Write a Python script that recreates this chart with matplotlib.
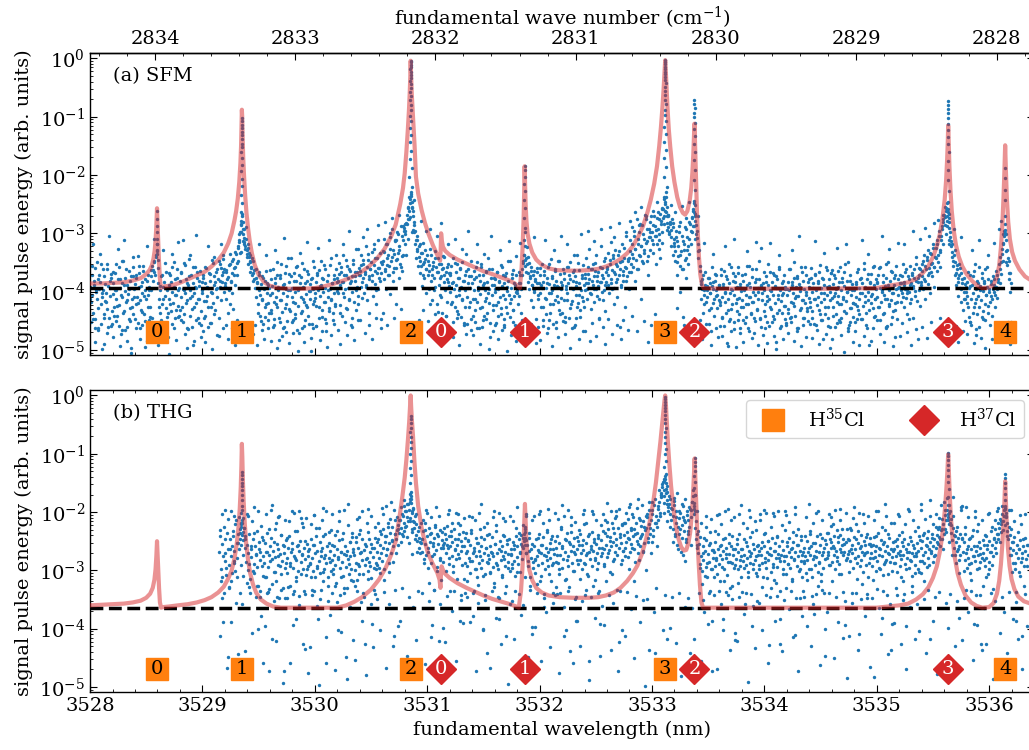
import numpy as np
import matplotlib
matplotlib.use('Agg')
import matplotlib.pyplot as plt
from matplotlib.lines import Line2D
from matplotlib.ticker import MultipleLocator, FixedLocator

# signal values are stored in centi-decades: signal = 10**(-v/100)

# ---- (a) SFM ------------------------------------------------------------
sfm_scan = (3528.0, 3536.2)   # every row below = 0.2 nm of the scan
sfm_core = [
    392, 418, 371, 405, 436, 388, 359, 447, 401, 412, 378, 466, 395, 383, 421, 352, 409, 398, 489, 374, 416, 403, 362, 429, 391, 446, 381, 407, 369, 455,
    404, 386, 427, 368, 412, 397, 441, 379, 358, 423, 394, 472, 385, 410, 347, 433, 399, 376, 418, 461, 389, 404, 365, 428, 382, 497, 413, 373, 438, 396,
    387, 421, 376, 409, 453, 392, 368, 415, 431, 384, 402, 356, 439, 397, 378, 413, 485, 371, 406, 392, 427, 363, 398, 445, 381, 367, 349, 372, 341, 318,
    336, 385, 412, 398, 437, 374, 421, 392, 459, 383, 407, 366, 428, 395, 478, 388, 412, 371, 433, 401, 357, 419, 392, 446, 378, 405, 362, 424, 397, 441,
    382, 409, 367, 426, 395, 351, 438, 402, 379, 415, 463, 389, 344, 411, 397, 372, 429, 386, 491, 403, 358, 420, 394, 376, 445, 391, 412, 365, 433, 384,
    398, 372, 416, 385, 441, 359, 407, 393, 427, 368, 382, 454, 401, 346, 419, 388, 374, 432, 396, 361, 410, 379, 476, 392, 352, 415, 383, 367, 338, 401,
    391, 366, 412, 378, 436, 395, 354, 421, 383, 402, 347, 429, 372, 389, 358, 336, 371, 322, 348, 315, 334, 298, 286, 267, 301, 318, 292, 327, 309, 341,
    328, 352, 341, 366, 337, 359, 372, 348, 381, 363, 394, 376, 409, 385, 422, 367, 398, 441, 387, 412, 373, 456, 395, 382, 427, 364, 403, 419, 388, 437,
    405, 379, 432, 391, 362, 418, 447, 386, 409, 371, 426, 398, 483, 377, 414, 352, 435, 402, 389, 461, 368, 421, 395, 408, 343, 384, 429, 397, 374, 452,
    393, 417, 368, 401, 439, 382, 356, 424, 398, 471, 386, 409, 375, 433, 392, 417, 361, 448, 404, 381, 426, 369, 399, 413, 387, 502, 376, 421, 395, 358,
    411, 384, 425, 372, 398, 446, 363, 407, 389, 432, 376, 401, 354, 418, 393, 467, 381, 409, 371, 428, 396, 343, 415, 386, 437, 402, 378, 421, 362, 399,
    376, 402, 351, 423, 389, 367, 441, 384, 338, 409, 395, 372, 428, 356, 393, 414, 362, 385, 457, 373, 401, 346, 418, 381, 366, 432, 392, 327, 408, 371,
    364, 392, 338, 411, 377, 353, 402, 369, 321, 388, 415, 346, 379, 436, 361, 394, 332, 372, 408, 355, 387, 343, 421, 368, 312, 396, 359, 381, 447, 349,
    352, 331, 378, 309, 364, 395, 342, 318, 371, 356, 404, 327, 348, 293, 366, 382, 336, 312, 359, 421, 344, 301, 376, 328, 352, 287, 339, 364, 311, 296,
    318, 296, 337, 284, 309, 275, 262, 248, 236, 229, 254, 271, 298, 286, 319, 342, 305, 331, 356, 322, 347, 368, 333, 391, 352, 317, 376, 344, 402, 361,
    338, 372, 355, 396, 327, 381, 362, 414, 349, 376, 331, 392, 358, 421, 367, 343, 388, 405, 352, 373, 436, 359, 384, 341, 398, 366, 417, 378, 353, 391,
    372, 401, 356, 418, 384, 343, 395, 427, 366, 389, 352, 438, 377, 406, 361, 392, 415, 349, 382, 453, 371, 398, 336, 409, 385, 362, 426, 393, 374, 447,
    386, 412, 364, 398, 431, 375, 349, 417, 392, 463, 381, 404, 357, 426, 389, 372, 441, 398, 365, 411, 384, 343, 419, 395, 478, 377, 406, 361, 432, 388,
    401, 378, 423, 366, 395, 442, 383, 409, 354, 428, 391, 372, 457, 386, 412, 368, 399, 436, 381, 405, 347, 419, 394, 376, 431, 363, 408, 389, 484, 372,
    397, 421, 366, 408, 385, 437, 372, 394, 351, 338, 322, 345, 367, 352, 384, 341, 396, 373, 415, 358, 389, 426, 364, 401, 378, 447, 386, 359, 412, 394,
    371, 403, 389, 352, 426, 384, 365, 411, 393, 439, 376, 358, 402, 387, 421, 344, 398, 373, 456, 389, 362, 414, 381, 407, 348, 392, 432, 369, 395, 411,
    388, 362, 414, 379, 443, 396, 357, 402, 385, 371, 428, 349, 393, 416, 367, 382, 461, 374, 405, 391, 338, 419, 386, 363, 432, 398, 377, 409, 354, 426,
    376, 398, 343, 412, 369, 385, 327, 403, 361, 429, 382, 352, 396, 418, 365, 338, 407, 374, 391, 446, 358, 383, 321, 401, 372, 414, 347, 389, 433, 366,
    361, 389, 334, 402, 352, 378, 315, 396, 343, 421, 367, 328, 384, 356, 409, 337, 372, 461, 349, 392, 318, 365, 381, 343, 427, 359, 305, 374, 348, 396,
    342, 311, 367, 289, 336, 358, 304, 381, 327, 346, 275, 318, 362, 297, 339, 412, 321, 285, 351, 309, 334, 268, 316, 347, 293, 372, 306, 329, 281, 458,
    312, 286, 334, 271, 305, 352, 294, 318, 263, 327, 301, 342, 279, 316, 297, 258, 284, 246, 262, 238, 271, 289, 268, 302, 281, 321, 294, 276, 338, 309,
    322, 348, 296, 371, 314, 339, 287, 356, 401, 331, 305, 362, 443, 318, 346, 292, 377, 328, 352, 309, 336, 284, 319, 297, 272, 288, 263, 251, 279, 302,
    296, 318, 342, 329, 364, 387, 412, 379, 436, 398, 421, 367, 455, 391, 409, 376, 432, 402, 385, 468, 357, 419, 396, 441, 381, 407, 372, 428, 394, 415,
    388, 423, 371, 409, 446, 392, 365, 418, 401, 437, 379, 412, 494, 386, 403, 358, 429, 397, 381, 452, 406, 374, 419, 392, 433, 368, 411, 387, 462, 399,
    414, 381, 426, 397, 369, 443, 405, 388, 421, 356, 409, 392, 438, 375, 417, 400, 471, 383, 406, 362, 429, 394, 412, 378, 447, 391, 325, 402, 386, 434,
    397, 421, 374, 408, 452, 389, 413, 367, 426, 399, 384, 441, 406, 372, 419, 393, 487, 378, 405, 431, 362, 398, 416, 385, 437, 403, 371, 424, 392, 458,
    406, 383, 429, 397, 361, 418, 444, 389, 402, 376, 425, 411, 392, 467, 374, 408, 387, 432, 399, 358, 415, 381, 446, 396, 419, 372, 405, 428, 384, 411,
    392, 418, 377, 434, 401, 386, 455, 369, 412, 397, 423, 381, 409, 366, 438, 394, 402, 376, 481, 413, 389, 427, 358, 405, 392, 446, 378, 415, 401, 368,
    411, 387, 426, 372, 403, 439, 395, 418, 364, 407, 383, 452, 398, 421, 376, 409, 391, 434, 353, 416, 400, 382, 463, 395, 371, 428, 405, 387, 419, 443,
    398, 421, 383, 409, 367, 432, 394, 413, 378, 447, 402, 386, 425, 361, 408, 392, 436, 379, 415, 401, 492, 384, 419, 370, 404, 428, 389, 356, 412, 396,
    385, 409, 372, 426, 394, 358, 417, 401, 438, 383, 406, 391, 463, 377, 412, 349, 424, 398, 381, 415, 366, 402, 433, 388, 371, 419, 396, 447, 378, 405,
    392, 371, 418, 385, 403, 352, 427, 389, 366, 411, 397, 438, 374, 401, 356, 419, 386, 372, 445, 393, 362, 408, 381, 341, 416, 377, 398, 359, 424, 383,
    374, 352, 396, 338, 381, 412, 361, 345, 387, 329, 368, 403, 352, 336, 374, 318, 357, 392, 341, 325, 364, 311, 349, 296, 332, 358, 304, 287, 319, 276,
    268, 285, 301, 262, 279, 258, 291, 274, 306, 322, 341, 318, 356, 337, 372, 349, 388, 361, 407, 376, 352, 394, 418, 368, 385, 432, 401, 377, 413, 392,
    407, 383, 426, 394, 452, 371, 412, 388, 436, 402, 365, 419, 396, 474, 381, 408, 357, 427, 391, 414, 376, 443, 399, 385, 421, 362, 405, 392, 437, 379,
    396, 418, 381, 407, 442, 373, 401, 389, 426, 364, 411, 395, 378, 352, 386, 341, 369, 327, 348, 316, 296, 284, 302, 331, 355, 343, 379, 368, 401, 452,
]
sfm_core2 = [
    412, 356, 447, 381, 463, 398, 349, 428, 371, 455, 403, 362, 439, 387, 418, 352, 461, 394, 376, 433,
    367, 441, 398, 353, 424, 459, 379, 406, 348, 437, 389, 465, 362, 415, 396, 451, 374, 427, 358, 409,
    447, 372, 419, 356, 463, 391, 435, 364, 408, 451, 382, 426, 398, 443, 374, 356, 363, 347, 338, 329,
    359, 426, 391, 448, 372, 413, 351, 462, 397, 437, 368, 421, 384, 456, 349, 405, 431, 377, 444, 393,
    431, 368, 452, 397, 354, 419, 386, 464, 373, 441, 408, 357, 427, 392, 449, 366, 413, 381, 458, 402,
    377, 445, 358, 416, 392, 461, 369, 427, 403, 351, 438, 384, 366, 393, 348, 382, 359, 371, 344, 362,
    386, 363, 375, 397, 352, 381, 368, 344, 359, 332, 351, 326, 312, 297, 284, 271, 293, 308, 322, 336,
    318, 334, 349, 357, 343, 368, 379, 361, 384, 436, 372, 405, 451, 414, 377, 443, 421, 386, 462, 393,
    363, 437, 402, 458, 376, 421, 349, 392, 445, 371, 414, 463, 387, 428, 356, 451, 398, 369, 433, 409,
    448, 381, 419, 357, 466, 396, 372, 437, 351, 412, 459, 385, 423, 364, 441, 399, 378, 455, 347, 416,
    402, 459, 368, 426, 391, 347, 443, 379, 418, 362, 454, 397, 433, 355, 412, 386, 448, 371, 424, 383,
    382, 369, 437, 358, 384, 403, 371, 346, 429, 376, 412, 364, 381, 445, 352, 374, 398, 367, 421, 359,
    371, 355, 384, 346, 367, 392, 358, 336, 374, 362, 349, 381, 327, 365, 398, 343, 359, 376, 334, 368,
    348, 332, 361, 319, 354, 337, 372, 306, 341, 328, 359, 314, 346, 297, 333, 322, 357, 305, 338, 291,
    302, 283, 269, 254, 241, 233, 247, 262, 281, 296, 312, 327, 341, 318, 356, 334, 371, 349, 328, 362,
    348, 364, 422, 337, 371, 356, 398, 343, 367, 435, 352, 376, 409, 361, 339, 372, 441, 357, 383, 368,
    368, 421, 386, 452, 351, 407, 434, 376, 398, 359, 443, 412, 381, 427, 364, 456, 393, 374, 418, 347,
    441, 379, 413, 358, 462, 397, 371, 428, 352, 449, 386, 416, 367, 437, 403, 361, 454, 389, 423, 376,
    395, 453, 366, 418, 381, 439, 357, 406, 461, 374, 427, 392, 348, 444, 412, 369, 431, 386, 458, 401,
    403, 385, 372, 396, 361, 348, 337, 356, 342, 368, 351, 377, 364, 389, 372, 398, 381, 367, 405, 386,
    359, 427, 394, 448, 371, 412, 386, 463, 352, 436, 403, 377, 421, 365, 452, 391, 418, 347, 439, 383,
    437, 368, 452, 391, 414, 357, 446, 379, 421, 396, 363, 458, 384, 427, 351, 405, 443, 372, 416, 389,
    369, 386, 395, 357, 378, 404, 362, 389, 373, 351, 396, 381, 367, 412, 384, 359, 376, 398, 343, 383,
    357, 372, 346, 385, 363, 338, 394, 369, 352, 378, 331, 361, 389, 347, 372, 326, 358, 381, 344, 366,
    331, 352, 318, 343, 296, 327, 361, 309, 338, 284, 322, 347, 301, 329, 276, 314, 339, 292, 306, 271,
    298, 319, 287, 305, 274, 293, 311, 266, 284, 257, 271, 249, 263, 282, 271, 298, 284, 306, 289, 317,
    331, 306, 349, 322, 297, 338, 361, 314, 329, 289, 343, 306, 322, 281, 296, 274, 261, 248, 267, 286,
    308, 331, 356, 382, 395, 371, 406, 389, 417, 398, 376, 403, 428, 391, 384, 412, 369, 397, 405, 388,
    418, 361, 443, 387, 459, 402, 374, 431, 353, 447, 396, 421, 368, 464, 383, 412, 357, 438, 392, 426,
    372, 448, 396, 421, 356, 463, 385, 409, 437, 362, 418, 451, 379, 432, 401, 348, 445, 389, 414, 367,
    441, 383, 416, 352, 459, 397, 429, 368, 447, 391, 374, 436, 412, 358, 463, 405, 381, 424, 396, 453,
    396, 437, 361, 452, 384, 419, 349, 441, 407, 376, 463, 392, 428, 367, 414, 446, 358, 401, 433, 379,
    427, 359, 446, 393, 412, 371, 458, 386, 431, 354, 417, 449, 378, 402, 439, 363, 426, 391, 461, 368,
    363, 441, 407, 376, 453, 392, 421, 358, 446, 384, 413, 367, 436, 401, 349, 458, 382, 428, 397, 419,
    452, 387, 424, 361, 439, 403, 376, 447, 351, 418, 394, 462, 369, 431, 386, 408, 357, 443, 412, 378,
    384, 426, 359, 448, 397, 371, 436, 413, 352, 459, 388, 421, 364, 443, 402, 377, 431, 356, 417, 394,
    386, 398, 373, 409, 384, 395, 361, 402, 378, 389, 412, 368, 391, 376, 399, 353, 384, 371, 362, 388,
    365, 348, 379, 356, 341, 372, 359, 334, 367, 351, 326, 358, 343, 319, 337, 304, 329, 312, 293, 281,
    272, 256, 248, 263, 281, 297, 314, 332, 347, 329, 368, 354, 383, 371, 359, 396, 378, 412, 387, 401,
    419, 366, 443, 391, 458, 374, 427, 352, 412, 439, 386, 461, 397, 368, 433, 381, 449, 405, 357, 424,
    401, 387, 413, 395, 378, 406, 392, 371, 384, 362, 349, 336, 318, 305, 294, 312, 329, 347, 368, 386,
]
sfm_outer = [   # sparse samples far from the noise floor
    452, 318, 487, 463, 336, 498, 446, 471, 305, 459,
    478, 451, 327, 493, 466, 312, 484, 447, 505, 341,
    463, 339, 482, 457, 495, 321, 448, 473, 309, 468,
    491, 458, 329, 476, 444, 507, 336, 462, 483, 315,
    449, 312, 472, 496, 338, 461, 485, 303, 454, 477,
    468, 487, 322, 453, 499, 341, 475, 446, 318, 462,
    457, 481, 335, 463, 492, 448, 302, 278, 315, 289,
    326, 347, 473, 458, 492, 318, 466, 481, 337, 449,
    484, 461, 329, 497, 452, 476, 308, 469, 488, 343,
    471, 446, 502, 334, 463, 487, 315, 455, 479, 462,
    459, 326, 483, 468, 447, 495, 312, 474, 456, 338,
    466, 489, 318, 452, 475, 296, 461, 483, 327, 448,
    448, 307, 471, 293, 458, 482, 319, 446, 286, 463,
    437, 281, 458, 299, 273, 446, 312, 268, 429, 287,
    284, 257, 272, 298, 243, 311, 448, 279, 432, 296,
    451, 293, 467, 438, 305, 479, 282, 456, 442, 318,
    462, 478, 309, 445, 491, 327, 457, 473, 296, 466,
    474, 452, 318, 489, 461, 336, 447, 498, 305, 468,
    458, 481, 329, 466, 447, 502, 313, 475, 452, 339,
    467, 316, 449, 298, 323, 476, 455, 307, 488, 461,
    483, 459, 312, 471, 448, 494, 329, 462, 477, 305,
    451, 472, 318, 496, 463, 337, 445, 482, 301, 468,
    468, 296, 485, 453, 314, 476, 447, 292, 461, 489,
    447, 289, 472, 306, 458, 283, 481, 449, 298, 466,
    279, 442, 263, 468, 286, 255, 451, 271, 487, 298,
    262, 438, 247, 276, 259, 241, 229, 268, 252, 283,
    264, 428, 281, 253, 457, 273, 246, 462, 258, 271,
    271, 448, 482, 317, 469, 455, 491, 336, 463, 477,
    459, 476, 322, 488, 451, 467, 309, 495, 448, 471,
    486, 453, 331, 467, 479, 446, 315, 492, 461, 474,
    463, 488, 317, 452, 476, 498, 338, 459, 481, 447,
    471, 446, 329, 484, 462, 305, 493, 457, 478, 451,
    455, 479, 314, 466, 490, 448, 333, 472, 459, 497,
    482, 461, 326, 449, 475, 503, 319, 468, 452, 487,
    468, 447, 491, 311, 476, 458, 335, 484, 463, 442,
    449, 472, 304, 486, 461, 327, 455, 493, 478, 316,
    476, 453, 318, 469, 447, 492, 296, 464, 481, 309,
    461, 291, 479, 304, 452, 283, 468, 277, 446, 269,
    254, 271, 318, 472, 293, 459, 486, 307, 467, 451,
    473, 452, 329, 488, 464, 312, 479, 447, 496, 338,
    458, 481, 316, 467, 293, 278, 301, 476, 452, 489,
]
sfm_peak_pts = [
    (3528.594, 262), (3528.596, 275), (3528.597, 288), (3528.595, 297), (3528.598, 309), (3528.600, 318), (3528.592, 331), (3528.602, 345),
    (3529.349, 103), (3529.351, 108), (3529.350, 114), (3529.352, 119), (3529.348, 126), (3529.350, 131), (3529.353, 138), (3529.349, 146),
    (3529.351, 152), (3529.347, 161), (3529.352, 170), (3529.354, 182), (3529.346, 193), (3529.350, 206), (3529.355, 219), (3529.345, 234),
    (3529.356, 248), (3529.344, 263), (3529.357, 281), (3529.342, 297), (3529.358, 314), (3529.340, 332),
    (3530.853, 4), (3530.852, 7), (3530.854, 11), (3530.853, 15), (3530.851, 19), (3530.855, 24), (3530.852, 28), (3530.854, 33),
    (3530.850, 38), (3530.856, 44), (3530.853, 50), (3530.851, 57), (3530.855, 64), (3530.849, 72), (3530.857, 80), (3530.852, 89),
    (3530.848, 98), (3530.858, 108), (3530.846, 119), (3530.856, 131), (3530.845, 144), (3530.860, 158), (3530.843, 172), (3530.862, 188),
    (3530.841, 204), (3530.865, 221), (3530.838, 238), (3530.868, 256), (3530.835, 275), (3530.871, 295),
    (3531.867, 184), (3531.866, 192), (3531.868, 203), (3531.865, 215), (3531.869, 228), (3531.864, 242), (3531.870, 257), (3531.863, 274),
    (3531.872, 291), (3531.861, 312),
    (3533.118, 3), (3533.117, 6), (3533.119, 10), (3533.118, 14), (3533.116, 18), (3533.120, 23), (3533.117, 27), (3533.119, 32),
    (3533.115, 37), (3533.121, 43), (3533.118, 49), (3533.116, 56), (3533.120, 63), (3533.114, 71), (3533.122, 79), (3533.117, 88),
    (3533.113, 97), (3533.123, 107), (3533.111, 118), (3533.121, 130), (3533.110, 143), (3533.125, 157), (3533.108, 171), (3533.127, 187),
    (3533.106, 203), (3533.130, 220), (3533.103, 237), (3533.133, 255), (3533.100, 274), (3533.136, 294),
    (3533.378, 72), (3533.377, 78), (3533.379, 85), (3533.378, 93), (3533.376, 101), (3533.380, 110), (3533.377, 121), (3533.379, 133),
    (3533.375, 146), (3533.381, 160), (3533.376, 175), (3533.380, 191), (3533.374, 208), (3533.382, 226), (3533.373, 245), (3533.384, 266),
    (3533.371, 287), (3533.386, 310),
    (3535.636, 73), (3535.635, 80), (3535.637, 86), (3535.636, 94), (3535.634, 103), (3535.638, 112), (3535.635, 122), (3535.637, 134),
    (3535.633, 147), (3535.639, 161), (3535.634, 176), (3535.638, 192), (3535.632, 209), (3535.640, 227), (3535.631, 246), (3535.642, 267),
    (3535.629, 288), (3535.644, 311),
    (3536.143, 188), (3536.142, 205), (3536.144, 226), (3536.141, 243), (3536.146, 270), (3536.139, 300), (3536.149, 350),
]
sfm_fit = [
    (3528.00, 386), (3528.10, 386), (3528.20, 385), (3528.30, 384), (3528.38, 381), (3528.45, 377), (3528.50, 370),
    (3528.53, 363), (3528.55, 355), (3528.565, 343), (3528.575, 330), (3528.583, 312), (3528.589, 292), (3528.593, 274),
    (3528.596, 257), (3528.599, 272), (3528.603, 296), (3528.608, 322), (3528.614, 350), (3528.621, 376), (3528.630, 394),
    (3528.645, 392), (3528.66, 391), (3528.70, 390), (3528.75, 388), (3528.81, 384), (3528.87, 379), (3528.94, 373),
    (3529.02, 366), (3529.08, 357), (3529.14, 346), (3529.19, 333), (3529.23, 317), (3529.26, 300), (3529.285, 278),
    (3529.30, 262), (3529.315, 240), (3529.328, 212), (3529.338, 180), (3529.344, 150), (3529.348, 118), (3529.351, 88),
    (3529.354, 100), (3529.358, 135), (3529.363, 170), (3529.37, 200), (3529.38, 234), (3529.392, 265), (3529.406, 291),
    (3529.42, 312), (3529.44, 334), (3529.465, 354), (3529.50, 371), (3529.55, 384), (3529.60, 390), (3529.66, 393),
    (3529.75, 395), (3529.90, 395), (3530.00, 394), (3530.08, 391), (3530.16, 387), (3530.24, 382), (3530.32, 376),
    (3530.40, 368), (3530.48, 357), (3530.55, 344), (3530.62, 327), (3530.68, 305), (3530.72, 285), (3530.76, 250),
    (3530.785, 222), (3530.80, 197), (3530.815, 160), (3530.828, 122), (3530.838, 88), (3530.845, 58), (3530.85, 30),
    (3530.853, 4), (3530.857, 30), (3530.863, 62), (3530.874, 100), (3530.888, 150), (3530.90, 203), (3530.92, 232),
    (3530.95, 260), (3530.98, 282), (3531.01, 300), (3531.05, 320), (3531.085, 335), (3531.105, 343), (3531.115, 347),
    (3531.12, 330), (3531.124, 300), (3531.13, 312), (3531.14, 323), (3531.16, 330), (3531.20, 337), (3531.27, 345),
    (3531.35, 352), (3531.43, 359), (3531.50, 365), (3531.58, 370), (3531.65, 375), (3531.72, 380), (3531.78, 386),
    (3531.81, 391), (3531.825, 394), (3531.84, 360), (3531.85, 320), (3531.858, 275), (3531.863, 230), (3531.867, 185),
    (3531.871, 215), (3531.876, 250), (3531.883, 278), (3531.893, 300), (3531.91, 318), (3531.935, 333), (3531.97, 345),
    (3532.02, 354), (3532.08, 360), (3532.15, 363), (3532.25, 364), (3532.35, 364), (3532.44, 363), (3532.52, 361),
    (3532.59, 357), (3532.66, 351), (3532.72, 344), (3532.78, 334), (3532.83, 322), (3532.88, 305), (3532.92, 288),
    (3532.96, 264), (3532.99, 242), (3533.02, 215), (3533.045, 185), (3533.065, 150), (3533.08, 118), (3533.093, 85),
    (3533.103, 55), (3533.111, 28), (3533.118, 3), (3533.124, 25), (3533.131, 55), (3533.14, 90), (3533.15, 122),
    (3533.163, 152), (3533.18, 185), (3533.20, 212), (3533.225, 238), (3533.25, 255), (3533.275, 265), (3533.295, 268),
    (3533.315, 262), (3533.335, 245), (3533.35, 222), (3533.36, 195), (3533.368, 165), (3533.374, 135), (3533.378, 112),
    (3533.382, 135), (3533.387, 170), (3533.393, 215), (3533.40, 260), (3533.408, 300), (3533.418, 340), (3533.43, 370),
    (3533.445, 388), (3533.46, 394), (3533.60, 395), (3534.50, 395), (3535.00, 394), (3535.10, 390), (3535.20, 387),
    (3535.28, 384), (3535.35, 378), (3535.41, 368), (3535.46, 356), (3535.50, 341), (3535.53, 325), (3535.56, 303),
    (3535.585, 275), (3535.605, 242), (3535.618, 208), (3535.627, 172), (3535.633, 140), (3535.636, 115), (3535.64, 140),
    (3535.647, 185), (3535.656, 225), (3535.668, 262), (3535.685, 295), (3535.705, 320), (3535.73, 340), (3535.76, 356),
    (3535.80, 370), (3535.85, 382), (3535.90, 390), (3535.94, 394), (3536.00, 393), (3536.04, 388), (3536.07, 375),
    (3536.09, 355), (3536.105, 325), (3536.118, 285), (3536.128, 240), (3536.136, 195), (3536.143, 149), (3536.15, 195),
    (3536.158, 240), (3536.17, 280), (3536.185, 310), (3536.205, 332), (3536.23, 347), (3536.27, 362), (3536.32, 374),
    (3536.40, 384),
]
sfm_floor = 394

# ---- (b) THG ------------------------------------------------------------
thg_scan = (3529.15, 3536.35)   # every row below = 0.2 nm of the scan
thg_core = [
    268, 241, 297, 312, 255, 389, 226, 284, 271, 308, 236, 263, 449, 291, 247, 276, 318, 258, 232, 287, 266, 301, 214, 253, 279, 238, 264, 229, 246, 221,
    219, 234, 248, 227, 262, 241, 285, 256, 271, 299, 238, 314, 263, 277, 408, 246, 289, 305, 259, 272, 233, 294, 326, 251, 268, 283, 378, 242, 309, 275,
    287, 253, 311, 269, 236, 295, 274, 332, 258, 244, 281, 417, 266, 302, 229, 277, 318, 255, 291, 263, 348, 272, 239, 306, 284, 257, 473, 271, 296, 248,
    279, 304, 262, 241, 288, 327, 269, 253, 394, 296, 275, 232, 311, 283, 258, 301, 267, 344, 249, 286, 273, 219, 297, 262, 435, 281, 308, 254, 276, 292,
    264, 289, 312, 247, 278, 301, 256, 336, 271, 228, 293, 267, 383, 284, 251, 305, 276, 262, 318, 241, 297, 273, 459, 288, 259, 312, 234, 279, 266, 301,
    283, 257, 306, 274, 239, 291, 322, 263, 277, 402, 248, 296, 268, 311, 285, 236, 272, 339, 259, 294, 266, 487, 281, 307, 252, 275, 298, 243, 318, 269,
    274, 299, 251, 287, 316, 262, 238, 293, 271, 355, 282, 247, 306, 265, 291, 426, 258, 279, 301, 234, 286, 269, 313, 254, 392, 277, 296, 261, 244, 288,
    268, 291, 247, 279, 305, 256, 238, 284, 262, 229, 297, 251, 273, 241, 264, 218, 288, 253, 236, 271, 249, 226, 259, 412, 238, 214, 247, 231, 256, 222,
    236, 214, 251, 227, 203, 241, 219, 232, 198, 224, 209, 187, 216, 196, 178, 169, 184, 201, 215, 193, 228, 207, 239, 221, 249, 232, 262, 244, 271, 253,
    247, 268, 232, 281, 255, 219, 273, 241, 296, 262, 228, 251, 287, 236, 394, 259, 272, 244, 226, 265, 301, 238, 254, 421, 279, 231, 262, 248, 286, 257,
    253, 237, 271, 246, 224, 262, 289, 241, 258, 233, 276, 251, 303, 229, 264, 247, 281, 256, 219, 272, 238, 386, 266, 249, 291, 235, 258, 314, 244, 271,
    266, 292, 248, 279, 305, 257, 236, 284, 271, 379, 262, 298, 244, 275, 312, 253, 288, 267, 229, 296, 259, 283, 401, 247, 271, 306, 262, 239, 285, 274,
    281, 258, 303, 269, 242, 294, 276, 321, 255, 287, 233, 271, 297, 264, 384, 249, 282, 308, 258, 275, 241, 293, 268, 412, 254, 286, 272, 247, 301, 263,
    272, 296, 251, 284, 263, 309, 241, 277, 258, 289, 236, 268, 302, 255, 281, 244, 262, 237, 229, 248, 271, 257, 293, 266, 245, 312, 278, 254, 397, 286,
    259, 283, 304, 247, 276, 265, 291, 238, 319, 271, 256, 288, 243, 274, 362, 297, 261, 282, 235, 268, 307, 253, 279, 246, 291, 264, 338, 272, 249, 285,
    262, 241, 287, 253, 306, 274, 229, 296, 258, 281, 412, 247, 269, 314, 236, 275, 293, 251, 438, 266, 222, 287, 259, 301, 244, 272, 387, 263, 283, 249,
    256, 283, 237, 271, 298, 248, 265, 221, 289, 274, 253, 307, 241, 268, 455, 281, 259, 234, 293, 266, 247, 278, 316, 255, 271, 239, 288, 262, 392, 276,
    248, 271, 232, 263, 289, 214, 256, 241, 277, 229, 265, 302, 243, 258, 219, 284, 251, 236, 269, 207, 247, 274, 228, 261, 423, 238, 253, 282, 221, 266,
    239, 262, 218, 251, 234, 277, 212, 246, 268, 227, 254, 203, 241, 263, 229, 285, 218, 249, 236, 271, 211, 244, 258, 224, 237, 266, 216, 253, 231, 207,
    228, 209, 245, 221, 196, 237, 214, 252, 203, 231, 188, 219, 441, 207, 226, 194, 213, 182, 201, 175, 168, 157, 149, 162, 143, 138, 151, 166, 179, 192,
    186, 203, 178, 214, 195, 229, 207, 188, 241, 219, 198, 256, 226, 211, 237, 202, 268, 223, 245, 209, 232, 284, 217, 251, 199, 238, 213, 226, 194, 208,
    196, 183, 172, 189, 204, 228, 246, 262, 238, 271, 255, 289, 243, 276, 301, 259, 283, 372, 267, 294, 248, 311, 272, 257, 286, 234, 298, 265, 386, 279,
    268, 293, 251, 282, 306, 263, 237, 289, 274, 319, 256, 281, 402, 266, 297, 244, 278, 261, 308, 285, 253, 272, 331, 259, 287, 241, 274, 296, 263, 419,
    281, 254, 297, 269, 238, 292, 276, 311, 263, 284, 247, 273, 358, 291, 258, 279, 302, 266, 243, 287, 271, 396, 255, 298, 264, 282, 231, 276, 309, 257,
    266, 291, 203, 274, 252, 287, 311, 259, 278, 236, 296, 268, 249, 283, 428, 261, 302, 274, 245, 289, 266, 317, 253, 279, 241, 295, 272, 258, 384, 284,
    273, 249, 298, 265, 284, 231, 276, 307, 258, 289, 269, 244, 296, 277, 262, 314, 251, 283, 411, 268, 239, 292, 275, 257, 301, 266, 284, 248, 273, 336,
    288, 262, 276, 305, 249, 283, 268, 297, 238, 274, 259, 312, 281, 253, 374, 291, 266, 277, 241, 302, 269, 285, 256, 319, 273, 244, 296, 262, 281, 447,
    254, 279, 236, 268, 291, 247, 262, 224, 285, 259, 273, 241, 298, 266, 231, 277, 252, 289, 263, 239, 306, 257, 274, 246, 268, 393, 283, 251, 229, 272,
    266, 248, 284, 231, 271, 257, 296, 243, 279, 264, 221, 288, 253, 275, 409, 261, 239, 282, 268, 302, 249, 273, 256, 291, 237, 268, 312, 254, 279, 245,
    271, 293, 256, 279, 243, 267, 301, 258, 284, 236, 273, 262, 297, 248, 381, 276, 254, 289, 267, 231, 282, 259, 306, 271, 244, 286, 263, 437, 277, 252,
    264, 287, 249, 276, 302, 258, 271, 239, 293, 266, 281, 252, 318, 274, 247, 289, 263, 396, 278, 255, 296, 268, 242, 284, 271, 309, 257, 276, 233, 291,
    276, 253, 298, 267, 241, 284, 262, 305, 249, 273, 288, 236, 269, 257, 294, 244, 279, 263, 417, 252, 271, 238, 286, 259, 247, 273, 226, 261, 239, 254,
    243, 226, 258, 231, 212, 247, 221, 238, 205, 229, 214, 197, 208, 188, 201, 219, 236, 212, 248, 227, 261, 239, 274, 251, 232, 266, 245, 283, 258, 273,
    197, 189, 244, 268, 252, 283, 237, 271, 296, 258, 279, 246, 305, 263, 288, 241, 276, 392, 259, 284, 267, 232, 298, 273, 251, 286, 262, 427, 279, 248,
    271, 256, 293, 241, 278, 264, 307, 249, 285, 268, 233, 291, 257, 276, 244, 262, 229, 251, 238, 219, 246, 227, 212, 234, 221, 203, 215, 196, 207, 189,
    201, 218, 232, 247, 226, 261, 239, 274, 252, 288, 265, 243, 297, 271, 386, 256, 279, 263, 302, 248, 285, 271, 412, 259, 293, 266, 245, 281, 257, 274,
]
thg_core2 = [
    231, 318, 204, 276, 339, 247, 296, 212, 328, 263, 199, 305, 241, 284, 221, 312, 253, 208, 236, 219,
    196, 211, 228, 247, 322, 206, 289, 338, 259, 215, 301, 236, 274, 327, 199, 263, 345, 224, 292, 248,
    311, 203, 268, 337, 229, 284, 197, 323, 251, 302, 218, 346, 276, 207, 292, 239, 331, 258, 214, 287,
    245, 329, 216, 293, 264, 341, 202, 278, 318, 233, 256, 199, 307, 272, 225, 336, 249, 211, 298, 267,
    288, 221, 334, 257, 205, 312, 241, 296, 227, 349, 266, 214, 303, 279, 238, 198, 326, 253, 285, 231,
    204, 297, 259, 326, 233, 281, 215, 343, 268, 246, 309, 197, 274, 331, 222, 289, 251, 317, 236, 263,
    327, 243, 212, 289, 306, 231, 268, 199, 338, 254, 281, 219, 315, 247, 292, 206, 261, 333, 226, 298,
    252, 218, 296, 233, 271, 204, 317, 241, 189, 263, 226, 302, 212, 248, 286, 197, 237, 271, 208, 229,
    214, 191, 238, 206, 179, 225, 198, 243, 186, 211, 172, 229, 195, 217, 247, 203, 268, 226, 252, 219,
    246, 213, 288, 231, 197, 269, 321, 238, 209, 276, 253, 334, 222, 295, 241, 207, 283, 316, 235, 262,
    228, 301, 257, 204, 278, 336, 241, 219, 293, 265, 201, 314, 246, 279, 223, 342, 258, 211, 287, 236,
    318, 249, 206, 284, 231, 339, 267, 214, 297, 253, 325, 201, 276, 242, 309, 226, 351, 262, 219, 288,
    237, 304, 271, 208, 329, 254, 223, 291, 345, 202, 266, 312, 239, 281, 215, 327, 248, 296, 206, 274,
    289, 216, 257, 335, 228, 302, 247, 271, 239, 258, 222, 249, 311, 203, 284, 236, 327, 264, 213, 296,
    206, 281, 323, 244, 268, 199, 309, 256, 218, 341, 275, 231, 292, 214, 263, 318, 241, 287, 202, 329,
    274, 212, 297, 338, 225, 261, 207, 316, 248, 283, 196, 329, 255, 234, 301, 268, 217, 346, 242, 289,
    231, 315, 256, 203, 288, 342, 219, 271, 309, 237, 264, 198, 326, 251, 282, 213, 297, 244, 335, 223,
    262, 204, 293, 236, 318, 217, 271, 249, 198, 306, 228, 281, 211, 256, 333, 195, 243, 289, 222, 267,
    219, 276, 201, 244, 297, 186, 231, 262, 209, 318, 237, 193, 254, 282, 214, 241, 188, 268, 226, 299,
    204, 252, 183, 228, 271, 196, 241, 177, 218, 259, 189, 163, 207, 171, 152, 184, 143, 168, 156, 198,
    172, 226, 193, 251, 181, 238, 209, 167, 263, 199, 229, 186, 274, 214, 178, 247, 205, 232, 191, 256,
    183, 162, 194, 171, 215, 257, 233, 296, 218, 324, 271, 244, 309, 226, 287, 339, 253, 212, 298, 265,
    311, 232, 278, 205, 336, 259, 221, 294, 247, 318, 199, 272, 343, 238, 286, 214, 327, 263, 208, 291,
    246, 321, 203, 283, 264, 337, 219, 296, 251, 228, 312, 197, 275, 341, 234, 289, 216, 305, 258, 273,
    297, 214, 261, 329, 238, 285, 201, 313, 249, 272, 346, 226, 294, 207, 267, 321, 243, 199, 278, 335,
    223, 306, 276, 198, 331, 252, 289, 217, 264, 319, 235, 281, 204, 347, 256, 229, 298, 241, 312, 268,
    284, 241, 209, 317, 262, 233, 298, 344, 219, 275, 253, 201, 326, 288, 237, 306, 213, 269, 339, 248,
    236, 273, 204, 291, 252, 319, 221, 262, 197, 284, 243, 306, 214, 268, 229, 337, 255, 201, 278, 246,
    302, 227, 264, 338, 211, 279, 246, 315, 233, 201, 292, 258, 324, 219, 271, 243, 347, 206, 287, 254,
    259, 316, 213, 277, 241, 332, 198, 296, 264, 225, 308, 251, 286, 207, 343, 238, 272, 219, 301, 266,
    218, 287, 331, 246, 203, 274, 312, 234, 259, 341, 221, 297, 268, 199, 283, 249, 326, 213, 262, 305,
    271, 226, 303, 248, 197, 284, 239, 318, 212, 259, 233, 291, 206, 267, 244, 221, 276, 203, 252, 229,
    211, 246, 188, 229, 263, 197, 235, 176, 214, 252, 199, 223, 274, 207, 241, 288, 226, 263, 304, 238,
    192, 247, 301, 226, 334, 263, 208, 289, 245, 317, 231, 276, 199, 342, 258, 221, 296, 272, 214, 327,
    283, 239, 311, 256, 204, 297, 268, 226, 332, 247, 214, 271, 199, 238, 252, 216, 189, 231, 206, 194,
    208, 241, 196, 273, 229, 302, 251, 216, 288, 337, 234, 263, 309, 221, 279, 246, 326, 203, 292, 257,
]
thg_outer = [   # sparse samples far from the main band
    412, 348, 196, 467, 331, 389, 207, 356, 443, 338,
    357, 438, 203, 329, 481, 192, 346, 401, 335, 459,
    396, 339, 472, 188, 352, 421, 209, 333, 493, 347,
    347, 458, 198, 336, 384, 359, 211, 427, 341, 476,
    432, 342, 205, 361, 497, 334, 193, 415, 352, 376,
    338, 471, 354, 199, 406, 331, 448, 187, 362, 419,
    453, 336, 208, 387, 346, 479, 195, 358, 431, 340,
    349, 402, 193, 337, 468, 358, 182, 429, 333, 396,
    386, 331, 189, 447, 346, 178, 362, 419, 335, 472,
    339, 461, 201, 352, 414, 333, 191, 482, 357, 398,
    423, 344, 197, 369, 336, 456, 204, 351, 391, 338,
    345, 389, 209, 336, 472, 356, 186, 403, 342, 441,
    467, 335, 199, 381, 348, 427, 211, 339, 494, 358,
    352, 418, 192, 341, 376, 359, 206, 448, 333, 409,
    397, 338, 204, 456, 347, 371, 195, 432, 356, 343,
    341, 476, 188, 362, 403, 335, 209, 459, 349, 387,
    429, 353, 197, 334, 488, 345, 203, 381, 339, 446,
    361, 394, 185, 342, 437, 356, 199, 473, 336, 402,
    413, 337, 192, 366, 451, 344, 178, 389, 351, 498,
    349, 436, 183, 372, 331, 462, 171, 403, 342, 418,
    398, 345, 176, 425, 338, 481, 189, 362, 347, 441,
    364, 417, 198, 339, 456, 351, 206, 392, 336, 473,
    342, 469, 203, 358, 384, 337, 194, 437, 349, 408,
    421, 346, 188, 375, 339, 492, 209, 361, 433, 352,
    356, 403, 197, 343, 458, 331, 201, 387, 344, 426,
    438, 351, 205, 367, 336, 414, 192, 472, 348, 379,
    345, 396, 186, 429, 357, 341, 199, 463, 334, 401,
    372, 339, 208, 451, 346, 388, 195, 416, 353, 485,
    413, 356, 191, 338, 437, 349, 203, 379, 341, 466,
    347, 482, 199, 365, 409, 336, 187, 443, 358, 392,
    391, 343, 206, 426, 351, 469, 194, 362, 337, 418,
    358, 404, 187, 349, 441, 333, 179, 387, 346, 477,
    337, 462, 183, 356, 398, 341, 174, 429, 352, 381,
    419, 348, 192, 371, 336, 453, 208, 394, 343, 437,
    364, 427, 201, 339, 486, 352, 193, 408, 345, 372,
    442, 337, 196, 383, 354, 417, 205, 469, 341, 396,
]
thg_peak_pts = [
    (3529.350, 132), (3529.349, 137), (3529.351, 143), (3529.350, 150), (3529.352, 156), (3529.348, 163), (3529.351, 171), (3529.349, 180),
    (3529.353, 190), (3529.347, 201), (3529.354, 213), (3529.346, 226), (3529.356, 240), (3529.344, 256), (3529.358, 273), (3529.342, 291),
    (3529.360, 310),
    (3530.853, 35), (3530.852, 41), (3530.854, 48), (3530.853, 55), (3530.851, 63), (3530.855, 71), (3530.852, 80), (3530.854, 90),
    (3530.850, 101), (3530.856, 112), (3530.849, 124), (3530.857, 137), (3530.847, 151), (3530.859, 166), (3530.845, 182), (3530.861, 199),
    (3530.843, 216), (3530.864, 234), (3530.840, 253), (3530.867, 272),
    (3531.871, 226), (3531.869, 234), (3531.873, 245), (3531.868, 257), (3531.875, 270),
    (3533.118, 2), (3533.117, 6), (3533.119, 11), (3533.118, 16), (3533.116, 21), (3533.120, 27), (3533.117, 33), (3533.119, 40),
    (3533.115, 47), (3533.121, 55), (3533.116, 63), (3533.120, 72), (3533.114, 81), (3533.122, 91), (3533.113, 101), (3533.124, 112),
    (3533.111, 123), (3533.126, 135), (3533.109, 147), (3533.128, 160), (3533.106, 173), (3533.131, 187), (3533.103, 201), (3533.134, 216),
    (3533.380, 107), (3533.379, 114), (3533.381, 121), (3533.380, 129), (3533.378, 138), (3533.382, 148), (3533.377, 159), (3533.383, 171),
    (3533.376, 184), (3533.385, 199),
    (3535.636, 98), (3535.635, 104), (3535.637, 111), (3535.636, 119), (3535.634, 128), (3535.638, 138), (3535.633, 149), (3535.639, 161),
    (3535.632, 174), (3535.641, 188), (3535.630, 203), (3535.643, 220),
    (3536.143, 135), (3536.142, 142), (3536.144, 150), (3536.143, 159), (3536.141, 169), (3536.145, 180), (3536.140, 193), (3536.147, 207),
    (3536.138, 223),
]
thg_fit = [
    (3528.00, 360), (3528.10, 359), (3528.20, 358), (3528.30, 357), (3528.38, 355), (3528.45, 352), (3528.50, 347),
    (3528.535, 340), (3528.558, 330), (3528.573, 316), (3528.583, 298), (3528.59, 276), (3528.596, 250), (3528.601, 272),
    (3528.607, 300), (3528.614, 330), (3528.622, 355), (3528.632, 364), (3528.65, 363), (3528.70, 362), (3528.78, 360),
    (3528.87, 358), (3528.95, 355), (3529.02, 351), (3529.08, 346), (3529.14, 338), (3529.19, 328), (3529.23, 314),
    (3529.26, 300), (3529.285, 280), (3529.305, 255), (3529.32, 228), (3529.332, 195), (3529.341, 158), (3529.347, 120),
    (3529.351, 83), (3529.355, 105), (3529.36, 145), (3529.367, 182), (3529.377, 220), (3529.39, 255), (3529.406, 282),
    (3529.425, 305), (3529.45, 324), (3529.48, 339), (3529.52, 350), (3529.57, 357), (3529.63, 362), (3529.70, 364),
    (3530.20, 364), (3530.28, 360), (3530.35, 354), (3530.42, 346), (3530.50, 333), (3530.57, 316), (3530.63, 296),
    (3530.68, 273), (3530.72, 250), (3530.76, 200), (3530.78, 172), (3530.80, 141), (3530.815, 110), (3530.828, 78),
    (3530.84, 45), (3530.847, 22), (3530.853, 0), (3530.857, 18), (3530.863, 40), (3530.874, 70), (3530.887, 115),
    (3530.90, 150), (3530.92, 190), (3530.95, 227), (3530.98, 252), (3531.01, 272), (3531.05, 289), (3531.09, 304),
    (3531.11, 316), (3531.118, 330), (3531.123, 305), (3531.128, 293), (3531.14, 299), (3531.16, 306), (3531.20, 313),
    (3531.27, 322), (3531.35, 330), (3531.43, 337), (3531.50, 343), (3531.58, 349), (3531.65, 353), (3531.72, 357),
    (3531.78, 361), (3531.815, 364), (3531.835, 335), (3531.848, 295), (3531.858, 250), (3531.865, 210), (3531.87, 186),
    (3531.875, 210), (3531.882, 245), (3531.892, 275), (3531.91, 300), (3531.935, 317), (3531.97, 330), (3532.02, 338),
    (3532.08, 343), (3532.18, 346), (3532.30, 347), (3532.44, 347), (3532.52, 346), (3532.59, 343), (3532.66, 338),
    (3532.72, 330), (3532.78, 318), (3532.83, 305), (3532.87, 292), (3532.91, 272), (3532.95, 245), (3532.985, 212),
    (3533.01, 185), (3533.035, 150), (3533.055, 115), (3533.075, 80), (3533.09, 50), (3533.103, 25), (3533.112, 8),
    (3533.118, 0), (3533.124, 15), (3533.132, 45), (3533.142, 80), (3533.155, 118), (3533.17, 155), (3533.19, 192),
    (3533.21, 222), (3533.235, 245), (3533.26, 260), (3533.285, 266), (3533.305, 265), (3533.325, 253), (3533.34, 235),
    (3533.352, 210), (3533.362, 182), (3533.37, 152), (3533.376, 125), (3533.38, 108), (3533.384, 130), (3533.39, 165),
    (3533.397, 205), (3533.405, 245), (3533.415, 285), (3533.427, 325), (3533.44, 355), (3533.455, 364), (3535.00, 364),
    (3535.10, 362), (3535.20, 360), (3535.28, 357), (3535.35, 350), (3535.41, 341), (3535.46, 329), (3535.50, 313),
    (3535.535, 293), (3535.565, 265), (3535.59, 230), (3535.607, 195), (3535.62, 160), (3535.629, 130), (3535.636, 101),
    (3535.642, 130), (3535.65, 170), (3535.66, 210), (3535.675, 245), (3535.695, 278), (3535.72, 305), (3535.75, 325),
    (3535.79, 343), (3535.84, 355), (3535.89, 361), (3535.94, 364), (3536.00, 363), (3536.04, 356), (3536.07, 340),
    (3536.09, 318), (3536.105, 290), (3536.118, 255), (3536.128, 220), (3536.136, 185), (3536.143, 147), (3536.15, 185),
    (3536.158, 225), (3536.168, 262), (3536.182, 292), (3536.20, 315), (3536.225, 332), (3536.26, 345), (3536.31, 353),
    (3536.40, 359),
]
thg_floor = 364

# line assignments
h35_lines = [3528.596, 3529.350, 3530.853, 3533.118, 3536.143]
h37_lines = [3531.123, 3531.870, 3533.378, 3535.636]
label_level = 2e-5

wavelength_ticks = [3528, 3529, 3530, 3531, 3532, 3533, 3534, 3535, 3536]
wavenumber_ticks = [2828, 2829, 2830, 2831, 2832, 2833, 2834]


def signal(v):
    return 10 ** (-np.asarray(v, dtype=float) / 100)


plt.rcParams.update({
    'font.family': 'serif',
    'mathtext.fontset': 'dejavuserif',
    'font.size': 14,
    'axes.linewidth': 1.0,
    'xtick.direction': 'in',
    'ytick.direction': 'in',
    'xtick.major.size': 5, 'xtick.minor.size': 2.5,
    'ytick.major.size': 5, 'ytick.minor.size': 2.5,
})

fig = plt.figure(figsize=(10.29, 7.5), dpi=100)
ax1 = fig.add_axes([0.0875, 0.5267, 0.9174, 0.4027])
ax2 = fig.add_axes([0.0875, 0.0773, 0.9174, 0.4027], sharex=ax1)


def draw_panel(ax, scan, rows, peak_pts, fit, floor, tag):
    xs, vs = [], []
    for k, vals in enumerate(rows):
        # each sample set covers the scan evenly, sets are slightly staggered
        x = np.linspace(scan[0], scan[1], len(vals), endpoint=False) + 0.0033 * k
        xs.append(x)
        vs.extend(vals)
    px, pv = np.array(peak_pts).T
    ax.scatter(np.concatenate(xs + [px]), signal(vs + list(pv)),
               s=6, lw=0, color='tab:blue', zorder=1)
    ax.axhline(signal(floor), color='k', ls='--', lw=2.5, zorder=2)
    fx, fv = np.array(fit).T
    ax.plot(fx, signal(fv), color='tab:red', alpha=0.5, lw=3, zorder=3)

    ax.plot(h35_lines, [label_level] * len(h35_lines), ls='none', marker='s',
            ms=15.5, color='tab:orange', zorder=5)
    ax.plot(h37_lines, [label_level] * len(h37_lines), ls='none', marker='D',
            ms=15, color='tab:red', zorder=5)
    for i, x in enumerate(h35_lines):
        ax.text(x, label_level, str(i), ha='center', va='center', color='k', zorder=6)
    for i, x in enumerate(h37_lines):
        ax.text(x, label_level, str(i), ha='center', va='center', color='w', zorder=6)

    ax.text(0.024, 0.952, tag, transform=ax.transAxes, ha='left', va='top')
    ax.set_yscale('log')
    ax.set_ylim(8.2e-6, 1.24)
    ax.set_ylabel('signal pulse energy (arb. units)')
    ax.tick_params(which='both', right=True)


draw_panel(ax1, sfm_scan, [sfm_core, sfm_core2, sfm_outer], sfm_peak_pts, sfm_fit, sfm_floor, '(a) SFM')
draw_panel(ax2, thg_scan, [thg_core, thg_core2, thg_outer], thg_peak_pts, thg_fit, thg_floor, '(b) THG')

ax1.set_xlim(3528.0, 3536.4)
ax1.xaxis.set_major_locator(FixedLocator(wavelength_ticks))
ax1.xaxis.set_minor_locator(MultipleLocator(0.2))
ax1.tick_params(which='both', top=False, labelbottom=False)
ax2.tick_params(which='both', top=True)
ax2.set_xlabel('fundamental wavelength (nm)')

sec = ax1.secondary_xaxis('top', functions=(lambda x: 1e7 / x, lambda x: 1e7 / x))
sec.xaxis.set_major_locator(FixedLocator(wavenumber_ticks))
sec.xaxis.set_minor_locator(MultipleLocator(0.2))
sec.tick_params(which='both', direction='in')
sec.tick_params(which='major', length=5)
sec.tick_params(which='minor', length=2.5)
sec.set_xlabel('fundamental wave number (cm$^{-1}$)')

handles = [
    Line2D([], [], ls='none', marker='s', ms=15.5, color='tab:orange', label='H$^{35}$Cl'),
    Line2D([], [], ls='none', marker='D', ms=15, color='tab:red', label='H$^{37}$Cl'),
]
ax2.legend(handles=handles, loc='upper right', ncol=2)

fig.savefig('out.png', dpi=100)
